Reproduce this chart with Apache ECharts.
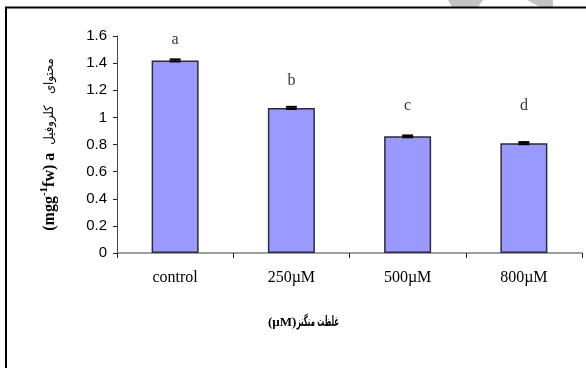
<!DOCTYPE html>
<html>
<head>
<meta charset="utf-8">
<script src="https://cdn.jsdelivr.net/npm/echarts@6/dist/echarts.min.js"></script>
<style>
  html, body { margin: 0; padding: 0; background: #fff; }
  #chart { width: 586px; height: 368px; }
</style>
</head>
<body>
<div id="chart"></div>
<script>
// Chlorophyll a content by manganese concentration
const categories = ['control', '250µM', '500µM', '800µM'];
const chlorophyllA = [1.42, 1.07, 0.86, 0.81];
const stdErr = [0.004, 0.004, 0.003, 0.004];
const groupLetters = ['a', 'b', 'c', 'd'];
const letterHeights = [1.57, 1.27, 1.085, 1.085];
const yTicks = [0, 0.2, 0.4, 0.6, 0.8, 1, 1.2, 1.4, 1.6];

const chart = echarts.init(document.getElementById('chart'), null, { renderer: 'canvas' });

const serif = '"Liberation Serif", "Times New Roman", serif';
const sans = '"Liberation Sans", Arial, sans-serif';
const arabic = '"DejaVu Sans Condensed", "DejaVu Sans", sans-serif';

chart.setOption({
  backgroundColor: '#ffffff',
  animation: false,
  grid: { left: 117, right: 4, top: 36, bottom: 115, containLabel: false },
  xAxis: {
    type: 'category',
    data: categories,
    boundaryGap: true,
    axisLine: { lineStyle: { color: '#808080', width: 1.5 } },
    axisTick: { show: true, length: 5, lineStyle: { color: '#222', width: 1 } },
    axisLabel: { fontFamily: serif, fontSize: 16, color: '#000', margin: 17 }
  },
  yAxis: {
    type: 'value',
    min: yTicks[0],
    max: yTicks[yTicks.length - 1],
    interval: 0.2,
    splitLine: { show: false },
    axisLine: { show: true, lineStyle: { color: '#444', width: 1 } },
    axisTick: { show: true, inside: false, length: 4, lineStyle: { color: '#222' } },
    axisLabel: {
      fontFamily: sans, fontSize: 15, color: '#000', margin: 10,
      formatter: v => String(Math.round(v * 10) / 10)
    },
    name: '{b|(mgg}{sup|-1}{b|fw) a  }{fa|محتوای   کلروفیل}',
    nameLocation: 'middle',
    nameRotate: 90,
    nameGap: 56,
    nameTextStyle: {
      rich: {
        b: { fontFamily: serif, fontWeight: 'bold', fontSize: 16, color: '#000', lineHeight: 22 },
        sup: { fontFamily: serif, fontWeight: 'bold', fontSize: 11, color: '#000', lineHeight: 11, verticalAlign: 'top' },
        fa: { fontFamily: arabic, fontSize: 13, color: '#000', lineHeight: 22 }
      }
    }
  },
  series: [
    {
      type: 'bar',
      data: chlorophyllA,
      barWidth: 47,
      itemStyle: { color: '#9999ff', borderColor: '#2b2b3d', borderWidth: 1.5 },
      z: 2
    },
    {
      // error bars
      type: 'custom',
      z: 3,
      data: chlorophyllA.map((v, i) => [i, v, stdErr[i]]),
      renderItem: (params, api) => {
        const x = api.value(0);
        const v = api.value(1);
        const e = api.value(2);
        const top = api.coord([x, v + e]);
        const bot = api.coord([x, v - e]);
        const half = 5.5;
        const st = { stroke: '#000', lineWidth: 2 };
        return {
          type: 'group',
          children: [
            { type: 'line', shape: { x1: top[0], y1: top[1] - 1, x2: bot[0], y2: bot[1] + 1 }, style: st },
            { type: 'line', shape: { x1: top[0] - half, y1: top[1] - 0.5, x2: top[0] + half, y2: top[1] - 0.5 }, style: st },
            { type: 'line', shape: { x1: bot[0] - half, y1: bot[1] + 0.5, x2: bot[0] + half, y2: bot[1] + 0.5 }, style: st }
          ]
        };
      }
    },
    {
      // significance letters
      type: 'scatter',
      symbolSize: 0,
      data: letterHeights.map((h, i) => [i, h]),
      label: {
        show: true,
        position: 'inside',
        formatter: p => groupLetters[p.dataIndex],
        fontFamily: serif,
        fontSize: 16,
        color: '#000'
      },
      z: 4
    }
  ],
  graphic: [
    {
      type: 'polygon',
      shape: { points: [[448, 0], [483, 0], [478, 7], [452, 7]] },
      style: { fill: '#c4c4c4' },
      z: 1
    },
    {
      type: 'polygon',
      shape: { points: [[527, 0], [553, 0], [553, 7], [540, 7]] },
      style: { fill: '#c4c4c4' },
      z: 1
    },
    {
      type: 'rect',
      shape: { x: 6, y: 7.5, width: 640, height: 420 },
      style: { fill: 'none', stroke: '#000', lineWidth: 2 },
      z: 10
    },
    {
      // x-axis title: unit part
      type: 'text',
      x: 268,
      y: 323,
      style: {
        text: '(µM)',
        font: 'bold 13px ' + serif,
        fill: '#000',
        align: 'left',
        verticalAlign: 'middle'
      }
    },
    {
      // x-axis title: Persian part
      type: 'text',
      x: 339,
      y: 322,
      scaleX: 0.55,
      style: {
        text: 'غلظت منگنز',
        font: 'bold 14px ' + arabic,
        fill: '#000',
        align: 'right',
        verticalAlign: 'middle'
      }
    }
  ]
});
</script>
</body>
</html>
